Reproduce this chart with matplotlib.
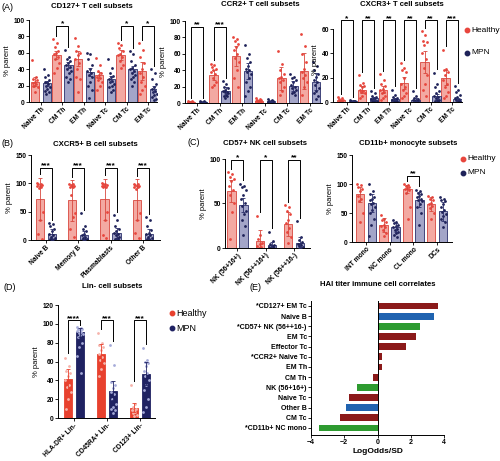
import numpy as np
import matplotlib
matplotlib.use('Agg')
import matplotlib.pyplot as plt
from matplotlib.lines import Line2D

plt.rcParams['font.family'] = ['Liberation Sans', 'DejaVu Sans']

# ---------------- data ----------------
# (A) CD127+ T cell subsets
t_labels = ['Naive Th', 'CM Th', 'EM Th', 'Naive Tc', 'CM Tc', 'EM Tc']
cd127_h_mean = [25, 57, 53, 33, 57, 38]
cd127_h_err = [5, 5, 9, 4, 6, 11]
cd127_m_mean = [23, 45, 37, 28, 40, 16]
cd127_m_err = [3, 4, 5, 4, 4, 4]
cd127_h_pts = [[51, 30, 28, 27, 25, 23, 22, 20, 18, 12, 19],
               [77, 72, 67, 62, 60, 58, 55, 52, 48, 42, 35],
               [78, 68, 62, 60, 57, 52, 48, 40, 28, 12, 30],
               [54, 45, 38, 35, 33, 31, 29, 27, 25, 20, 15],
               [72, 70, 66, 62, 58, 57, 55, 50, 45, 42],
               [72, 63, 55, 48, 40, 35, 30, 25, 20, 15, 10]]
cd127_m_pts = [[40, 33, 30, 27, 25, 24, 22, 20, 18, 16, 14, 12, 10],
               [63, 55, 52, 50, 48, 45, 43, 40, 38, 35, 30, 28, 25],
               [60, 58, 52, 45, 40, 38, 35, 33, 30, 25, 20, 15, 5],
               [53, 42, 35, 32, 30, 28, 26, 24, 22, 20, 18, 15, 12],
               [62, 58, 50, 45, 42, 40, 38, 35, 33, 30, 28, 25, 20],
               [40, 35, 28, 22, 18, 16, 14, 12, 10, 8, 6, 4, 2]]
cd127_sig = [(1, '*', 93), (4, '*', 93), (5, '*', 93)]

# (A) CCR2+ T cell subsets
ccr2_h_mean = [1.5, 34, 57, 3, 30, 39]
ccr2_h_err = [0.5, 6, 12, 1, 14, 22]
ccr2_m_mean = [1.2, 15, 39, 2, 21, 26]
ccr2_m_err = [0.5, 4, 10, 1, 6, 10]
ccr2_h_pts = [[2.5, 2, 1.8, 1.5, 1.2, 1, 0.8, 0.5],
              [48, 46, 44, 42, 40, 38, 35, 30, 25, 22, 20],
              [81, 78, 75, 72, 68, 65, 60, 55, 50, 40, 30, 20],
              [6, 5, 4, 3.5, 3, 2.5, 2, 1.5, 1],
              [63, 48, 40, 35, 32, 30, 28, 25, 20, 15, 10],
              [84, 70, 60, 50, 42, 38, 34, 30, 25, 20, 10]]
ccr2_m_pts = [[2.5, 2, 1.5, 1.2, 1, 0.8, 0.6, 0.5, 0.3],
              [27, 23, 20, 18, 16, 15, 14, 13, 12, 10, 9, 8, 6],
              [71, 60, 55, 50, 45, 42, 40, 38, 35, 30, 25, 20, 15, 8],
              [5, 4, 3, 2.5, 2, 1.8, 1.5, 1.2, 1, 0.8],
              [35, 32, 30, 28, 25, 22, 20, 18, 16, 14, 12, 10],
              [50, 45, 40, 35, 32, 28, 25, 22, 18, 15, 12, 8, 5]]
ccr2_sig = [(0, '**', 93), (1, '***', 93)]

# (A) CXCR3+ T cell subsets
cxcr3_h_mean = [1.5, 10, 10, 15.5, 33, 20]
cxcr3_h_err = [0.5, 3, 3, 5, 9, 6]
cxcr3_m_mean = [0.8, 3, 2.5, 2, 4.6, 2.5]
cxcr3_m_err = [0.3, 1, 1, 1, 2, 1]
cxcr3_h_pts = [[4, 3, 2.5, 2, 1.5, 1, 0.8, 0.5],
               [22, 16, 14, 13, 12, 10, 9, 8, 7, 5, 3],
               [23, 18, 15, 13, 11, 10, 8, 7, 5, 3, 2],
               [32, 28, 26, 25, 20, 15, 12, 10, 7, 5, 3],
               [58, 55, 50, 49, 47, 40, 35, 28, 22, 15, 10, 5],
               [43, 27, 26, 25, 22, 18, 15, 12, 8, 5, 3]]
cxcr3_m_pts = [[1.5, 1.2, 1, 0.8, 0.7, 0.5, 0.4, 0.3],
               [9, 7, 5, 4, 3, 2.5, 2, 1.5, 1, 0.8, 0.5],
               [10, 6, 4, 3, 2.5, 2, 1.5, 1, 0.8, 0.5],
               [9, 5, 3, 2.5, 2, 1.5, 1, 0.8, 0.5],
               [24, 15, 12, 9, 7, 5, 4, 3, 2, 1.5, 1, 0.5],
               [13, 10, 8, 6, 4, 3, 2, 1.5, 1, 0.5]]
cxcr3_sig = [(0, '*', 67), (1, '**', 67), (2, '**', 67), (3, '**', 67), (4, '**', 67), (5, '***', 67)]

# (B) CXCR5+ B cell subsets
b_labels = ['Naive B', 'Memory B', 'Plasmablasts', 'Other B']
b_h_mean = [73, 70, 72, 71]
b_h_err = [37, 36, 36, 36]
b_m_mean = [10, 8, 12, 10]
b_m_err = [10, 8, 10, 9]
b_h_pts = [[100, 99, 98, 97, 96, 95, 94, 92, 50, 35, 10, 2],
           [99, 98, 97, 96, 95, 94, 93, 80, 48, 40, 20, 5],
           [100, 99, 98, 97, 96, 95, 94, 93, 50, 36, 8, 3],
           [99, 98, 97, 96, 95, 94, 93, 90, 48, 35, 12, 3]]
b_m_pts = [[30, 28, 25, 20, 15, 10, 8, 5, 3, 2, 1, 0.5],
           [47, 25, 20, 15, 10, 8, 5, 3, 2, 1, 0.5],
           [44, 36, 25, 20, 15, 12, 10, 8, 5, 3, 2, 1],
           [40, 35, 25, 18, 12, 10, 8, 5, 3, 2, 1]]
b_sig = [(0, '***', 127), (1, '***', 127), (2, '***', 127), (3, '***', 127)]

# (C) CD57+ NK cell subsets
nk_labels = ['NK (56+16+)', 'NK (56++16+)', 'NK (56++16-)']
nk_h_mean = [64, 8, 27]
nk_h_err = [12, 12, 14]
nk_m_mean = [48, 3, 6]
nk_m_err = [8, 4, 6]
nk_h_pts = [[85, 83, 80, 78, 75, 70, 65, 60, 50, 40, 10],
            [36, 15, 10, 6, 4, 2, 1, 0.5],
            [48, 46, 42, 38, 32, 28, 22, 18, 12, 6]]
nk_m_pts = [[72, 70, 68, 65, 60, 55, 50, 47, 42, 38, 32, 25, 15],
            [18, 8, 5, 3, 2, 1.5, 1, 0.5, 0.3],
            [30, 12, 9, 7, 5, 4, 3, 2, 1, 0.5]]
nk_sig = [(0, '*', 99), (1, '*', 99), (2, '**', 99)]

# (C) CD11b+ monocyte subsets
mono_labels = ['INT mono', 'NC mono', 'CL mono', 'DCs']
mono_h_mean = [82, 30, 92, 65]
mono_h_err = [13, 12, 7, 12]
mono_m_mean = [67, 25, 73, 53]
mono_m_err = [15, 8, 13, 16]
mono_h_pts = [[100, 98, 95, 92, 88, 80, 75, 70, 50, 35],
              [47, 40, 38, 35, 30, 28, 25, 20, 15, 10],
              [100, 98, 97, 95, 93, 92, 90, 85, 60, 40],
              [80, 78, 75, 72, 68, 65, 62, 58, 50, 40]]
mono_m_pts = [[100, 88, 82, 78, 75, 72, 68, 65, 60, 55, 50, 40, 30, 10],
              [38, 35, 32, 30, 28, 25, 22, 20, 18, 15, 12, 8],
              [90, 88, 85, 82, 80, 78, 75, 72, 70, 65, 60, 50, 30],
              [78, 75, 72, 70, 65, 60, 55, 52, 48, 45, 40, 35, 25]]
mono_sig = [(2, '**', 114)]

# (D) Lin- cell subsets
lin_labels = ['HLA-DR+ Lin-', 'CD45RA+ Lin-', 'CD123+ Lin-']
lin_h_mean = [41, 68, 11]
lin_h_err = [11, 11, 5]
lin_m_mean = [91, 29, 47]
lin_m_err = [5, 10, 12]
lin_h_pts = [[64, 55, 50, 48, 45, 40, 35, 33, 28, 20, 10],
             [90, 80, 78, 75, 72, 68, 65, 62, 58, 52, 45],
             [35, 15, 12, 10, 9, 8, 6, 5, 3, 2]]
lin_m_pts = [[97, 96, 95, 94, 93, 92, 91, 90, 89, 88, 86, 80, 75, 66, 48],
             [77, 56, 38, 35, 32, 28, 25, 20, 15, 12, 10, 8, 5],
             [74, 62, 60, 58, 55, 50, 48, 45, 40, 35, 30, 20, 12, 6]]
lin_sig = [(0, '****', 104), (1, '***', 104), (2, '***', 104)]

# (E) HAI titer immune cell correlates
e_labels = ['*CD127+ EM Tc', 'Naive B', '*CD57+ NK (56++16-)', 'EM Tc', 'Effector Tc',
            '*CCR2+ Naive Tc', 'EM Th', 'CM Th', 'NK (56+16+)', 'Naive Tc', 'Other B',
            'CM Tc', '*CD11b+ NC mono']
e_vals = [3.65, 3.38, 2.54, 2.3, 1.7, 0.3, 0.27, -0.26, -1.26, -1.7, -1.92, -2.26, -3.5]
e_kind = ['T', 'B', 'NK', 'T', 'T', 'T', 'T', 'T', 'NK', 'T', 'B', 'T', 'NK']

# ---------------- styling ----------------
W, H = 500, 461
fig = plt.figure(figsize=(5, 4.61), dpi=100)

H_PT, H_BAR, H_EDGE = '#E8463D', '#F3A9A2', '#D8473E'
M_PT, M_BAR, M_EDGE = '#1E2259', '#A3A5C8', '#2B2F6B'
kind_col = {'T': '#8B1A1A', 'B': '#2063B0', 'NK': '#2E9B30'}


def add_ax(x0, x1, y0px, ytpx, yt, ymax):
    sc = (y0px - ytpx) / yt
    top = y0px - ymax * sc
    return fig.add_axes([x0 / W, 1 - y0px / H, (x1 - x0) / W, (y0px - top) / H])


def jit(n, w):
    return ((np.arange(n) * 0.618) % 1 - 0.5) * w


def panel(ax, labels, hm, he, hp, mm, me, mp, sig, ylim, yticks, xlim, spacing,
          solid=False, fs_star=6):
    bw = 8.5 / spacing
    off = 6.0 / spacing
    x = np.arange(len(labels))
    if solid:
        hb, mb, hpc, mpc = '#E8412E', '#1F2262', '#F6B3AB', '#A6ABD9'
        he_c, me_c = '#E8412E', '#1F2262'
    else:
        hb, mb, hpc, mpc = H_BAR, M_BAR, H_PT, M_PT
        he_c, me_c = H_EDGE, M_EDGE
    ax.bar(x - off, hm, bw, color=hb, edgecolor=he_c, lw=0.6, zorder=1)
    ax.bar(x + off, mm, bw, color=mb, edgecolor=me_c, lw=0.6, zorder=1)
    ax.errorbar(x - off, hm, yerr=he, fmt='none', ecolor=he_c, elinewidth=0.6,
                capsize=1.5, capthick=0.6, zorder=3)
    ax.errorbar(x + off, mm, yerr=me, fmt='none', ecolor=me_c, elinewidth=0.6,
                capsize=1.5, capthick=0.6, zorder=3)
    for i in range(len(labels)):
        ax.scatter(x[i] - off + jit(len(hp[i]), bw * 0.7), hp[i], s=4, color=hpc, lw=0, zorder=2)
        ax.scatter(x[i] + off + jit(len(mp[i]), bw * 0.7), mp[i], s=4, color=mpc, lw=0, zorder=2)
    gap = 0.04 * ylim[1]
    for i, lab, top in sig:
        lb = min(max(max(hp[i]), hm[i] + he[i]) + gap, top - gap)
        rb = min(max(max(mp[i]), mm[i] + me[i]) + gap, top - gap)
        ax.plot([i - off, i - off, i + off, i + off], [lb, top, top, rb], color='k',
                lw=0.7, clip_on=False, zorder=4)
        ax.text(i, top - 0.02 * ylim[1], lab, ha='center', va='bottom', fontsize=fs_star,
                fontweight='bold', clip_on=False)
    ax.set_xlim(xlim)
    ax.set_ylim(ylim)
    ax.spines[['top', 'right']].set_visible(False)
    ax.spines['left'].set_bounds(yticks[0], yticks[-1])
    for s in ax.spines.values():
        s.set_linewidth(0.7)
    ax.set_yticks(yticks)
    ax.set_xticks(x)
    ax.set_xticklabels(labels, rotation=45, ha='right', rotation_mode='anchor',
                       fontsize=4.8, fontweight='bold')
    ax.tick_params(length=2, width=0.6, labelsize=4.8, pad=1)
    for t in ax.get_yticklabels():
        t.set_fontweight('bold')
    ax.set_ylabel('% parent', fontsize=5.5, labelpad=2)


def ftext(x, y, s, **kw):
    fig.text(x / W, 1 - y / H, s, **kw)


def legend(x, y, dy, fs, solid=False):
    cols = ['#E8412E', '#1F2262'] if solid else [H_PT, M_PT]
    for k, (lab, c) in enumerate(zip(['Healthy', 'MPN'], cols)):
        yy = y + k * dy
        fig.add_artist(Line2D([x / W], [1 - yy / H], marker='o', ms=3.2, color=c, lw=0,
                              transform=fig.transFigure))
        ftext(x + 4, yy, lab, fontsize=fs, va='center', ha='left')


TFS = 5.6
# A
ax = add_ax(29, 157, 102, 20, 100, 100)
panel(ax, t_labels, cd127_h_mean, cd127_h_err, cd127_h_pts, cd127_m_mean, cd127_m_err,
      cd127_m_pts, cd127_sig, (0, 100), [0, 20, 40, 60, 80, 100], (-0.56, 5.42), 21.4)
ax = add_ax(185, 322, 103, 21, 100, 100)
panel(ax, t_labels, ccr2_h_mean, ccr2_h_err, ccr2_h_pts, ccr2_m_mean, ccr2_m_err,
      ccr2_m_pts, ccr2_sig, (0, 100), [0, 20, 40, 60, 80, 100], (-0.53, 5.53), 22.6)
ax = add_ax(333, 462, 102, 29, 60, 70)
panel(ax, t_labels, cxcr3_h_mean, cxcr3_h_err, cxcr3_h_pts, cxcr3_m_mean, cxcr3_m_err,
      cxcr3_m_pts, cxcr3_sig, (0, 70), [0, 20, 40, 60], (-0.67, 5.5), 21)
ftext(92, 6, 'CD127+ T cell subsets', fontsize=TFS, fontweight='bold', ha='center', va='center')
ftext(260, 5, 'CCR2+ T cell subsets', fontsize=TFS, fontweight='bold', ha='center', va='center')
ftext(402, 5, 'CXCR3+ T cell subsets', fontsize=TFS, fontweight='bold', ha='center', va='center')
ftext(2, 7, '(A)', fontsize=6.5, va='center')
legend(467, 30, 23, 6)

# B
ax = add_ax(31, 160, 240, 155, 150, 150)
panel(ax, b_labels, b_h_mean, b_h_err, b_h_pts, b_m_mean, b_m_err, b_m_pts, b_sig,
      (0, 150), [0, 50, 100, 150], (-0.46, 3.53), 32.3)
ftext(95, 144, 'CXCR5+ B cell subsets', fontsize=TFS, fontweight='bold', ha='center', va='center')
ftext(2, 143, '(B)', fontsize=6.5, va='center')

# C
ax = add_ax(225, 310, 248, 159, 100, 100)
panel(ax, nk_labels, nk_h_mean, nk_h_err, nk_h_pts, nk_m_mean, nk_m_err, nk_m_pts, nk_sig,
      (0, 100), [0, 50, 100], (-0.44, 2.56), 28.3)
ax = add_ax(352, 452, 242, 155, 150, 150)
panel(ax, mono_labels, mono_h_mean, mono_h_err, mono_h_pts, mono_m_mean, mono_m_err,
      mono_m_pts, mono_sig, (0, 150), [0, 50, 100, 150], (-0.59, 3.63), 23.7)
ftext(265, 143, 'CD57+ NK cell subsets', fontsize=TFS, fontweight='bold', ha='center', va='center')
ftext(408, 143, 'CD11b+ monocyte subsets', fontsize=TFS, fontweight='bold', ha='center', va='center')
ftext(187, 142, '(C)', fontsize=6.5, va='center')
legend(463, 159, 14, 6)

# D
ax = add_ax(58, 155, 418, 305, 120, 120)
panel(ax, lin_labels, lin_h_mean, lin_h_err, lin_h_pts, lin_m_mean, lin_m_err, lin_m_pts,
      lin_sig, (0, 120), [0, 20, 40, 60, 80, 100, 120], (-0.48, 2.45), 33, solid=True)
ftext(112, 286, 'Lin- cell subsets', fontsize=TFS, fontweight='bold', ha='center', va='center')
ftext(4, 287, '(D)', fontsize=6.5, va='center')
legend(172, 313, 15, 6.5, solid=True)

# E
ax = fig.add_axes([311 / W, 1 - 435 / H, 133 / W, 134 / H])
y = np.arange(len(e_labels))
ax.barh(y, e_vals, height=0.68, color=[kind_col[k] for k in e_kind], zorder=2)
ax.axvline(0, color='k', lw=0.7, zorder=3)
ax.set_xlim(-4, 4)
ax.set_ylim(len(e_labels) - 1 + 0.69, -0.49)
ax.set_yticks(y)
ax.set_yticklabels(e_labels, fontsize=4.8, fontweight='bold')
ax.set_xticks([-4, -2, 0, 2, 4])
ax.tick_params(length=2, width=0.6, labelsize=5, pad=1)
for t in ax.get_xticklabels():
    t.set_fontweight('bold')
ax.spines[['top', 'right']].set_visible(False)
for s in ax.spines.values():
    s.set_linewidth(0.7)
ax.set_xlabel('LogOdds/SD', fontsize=6, fontweight='bold', labelpad=1)
ftext(378, 284, 'HAI titer immune cell correlates', fontsize=TFS, fontweight='bold',
      ha='center', va='center')
ftext(250, 287, '(E)', fontsize=6.5, va='center')

fig.savefig('out.png', dpi=100)
